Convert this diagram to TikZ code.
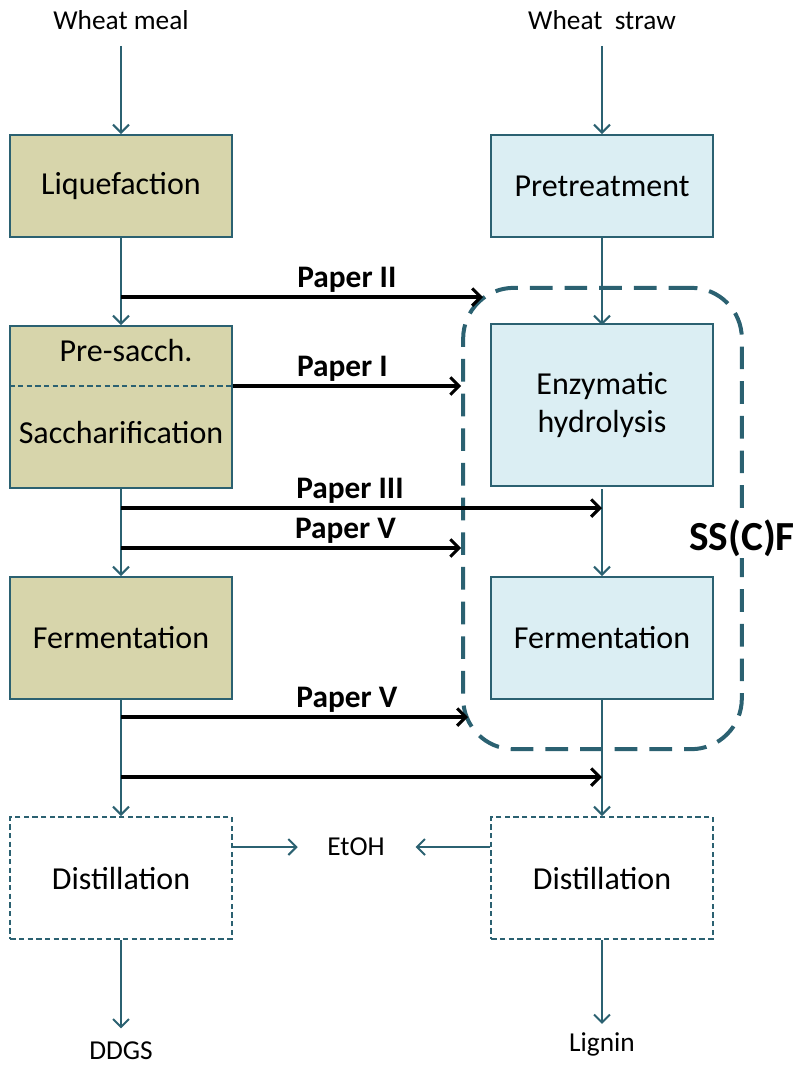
\documentclass[tikz,border=0pt]{standalone}
\usepackage{fontspec}
\setmainfont{Carlito}
\usetikzlibrary{arrows.meta,positioning,calc}
\definecolor{flowteal}{HTML}{2B6171}
\definecolor{mealfill}{HTML}{D7D5AB}
\definecolor{strawfill}{HTML}{DBEEF3}

\begin{document}
\begin{tikzpicture}[x=0.75pt,y=-0.75pt,node distance=0pt]

\tikzstyle{unit}=[rectangle,draw=flowteal,line width=1.5pt,minimum width=166pt,minimum height=76.5pt,align=center,font=\fontsize{24}{28.5}\selectfont];
\tikzstyle{meal}=[unit,fill=mealfill];
\tikzstyle{straw}=[unit,fill=strawfill];
\tikzstyle{still}=[unit,dash pattern=on 4pt off 2.5pt,minimum height=91.5pt];
\tikzstyle{stream}=[inner sep=0pt,font=\fontsize{20.5}{24}\selectfont];
\tikzstyle{flow}=[draw=flowteal,line width=1.5pt,-{Straight Barb[length=6pt,width=12pt]}];
\tikzstyle{paper}=[draw=black,line width=2.3pt,-{Straight Barb[length=6.5pt,width=13pt]}];
\tikzstyle{tag}=[above=-1pt,font=\fontsize{23.5}{27}\bfseries\selectfont];

\useasboundingbox (0,0) rectangle (801,1065);

% process boxes
\node(LIQ) [meal] at (121,186) {Liquefaction};
\node(PRE) [straw] at (602,186) {Pretreatment};
\node(SACCH) [meal,minimum height=121.5pt] at (121,407) {};
\node [unit,draw=none] at (126,351) {Pre-sacch.};
\node [unit,draw=none] at (121,432) {Saccharification};
\node(ENZ) [straw,minimum height=121.5pt] at (602,405) {Enzymatic\\hydrolysis};
\node(FERML) [meal,minimum height=91.5pt] at (121,638) {Fermentation};
\node(FERMR) [straw,minimum height=91.5pt] at (602,638) {Fermentation};
\node(DISTL) [still] at (121,878) {Distillation};
\node(DISTR) [still] at (602,878) {Distillation};

% SS(C)F frame
\node(SSF) [draw=flowteal,line width=3pt,dash pattern=on 17pt off 9pt,rounded corners=38pt,
  minimum width=209pt,minimum height=346pt] at (602.5,518.5) {};
\node(SSFTAG) [fill=white,inner sep=1pt,font=\fontsize{31}{36}\bfseries\selectfont] at (742,538) {SS(C)F};

% streams
\node(MEAL) [stream] at (121,20) {Wheat meal};
\node(STRAW) [stream] at (602,20) {Wheat\ \ straw};
\node(DDGS) [stream] at (121,1051) {DDGS};
\node(LIGNIN) [stream] at (602,1044) {Lignin};
\node(ETOH) [stream] at (356,847) {EtOH};

\draw[flow,shorten <=12pt] (MEAL) -- (LIQ);
\draw[flow,shorten <=12pt] (STRAW) -- (PRE);
\draw[flow] (LIQ) -- (SACCH);
\draw[flow] (SACCH) -- (FERML);
\draw[flow] (FERML) -- (DISTL);
\draw[flow,shorten >=10pt] (DISTL) -- (DDGS);
\draw[flow] (PRE) -- (ENZ.north |- SACCH.north);
\draw[flow] (ENZ.south |- SACCH.south) -- (FERMR);
\draw[flow] (FERMR) -- (DISTR);
\draw[flow,shorten >=6pt] (DISTR) -- (LIGNIN);
\draw[flow,shorten >=22pt] (DISTL.east |- ETOH) -- (ETOH.west);
\draw[flow,shorten >=23pt] (DISTR.west |- ETOH) -- (ETOH.east);

% split line
\coordinate(SPLITL) at (SACCH.west |- 0,386);
\coordinate(SPLITR) at (SACCH.east |- 0,386);
\draw[flowteal,line width=1.5pt,dash pattern=on 4pt off 2.5pt] (SPLITL) -- (SPLITR);

% paper links
\coordinate(TAP2) at (121,297);
\coordinate(END2) at (483,297);
\coordinate(END1) at (SSF.west |- SPLITR);
\coordinate(TAP3) at (121,508);
\coordinate(END3) at (602,508);
\coordinate(TAP5A) at (121,548);
\coordinate(END5A) at (SSF.west |- TAP5A);
\coordinate(TAP5B) at (121,717);
\coordinate(END5B) at (468,717);
\coordinate(TAP6) at (121,777);
\coordinate(END6) at (602,777);

\draw[paper] (TAP2) -- node[tag,pos=0.624] {Paper II} (END2);
\draw[paper] (SPLITR) -- node[tag,pos=0.48] {Paper I} (END1);
\draw[paper] (TAP3) -- node[tag,pos=0.476] {Paper III} (END3);
\draw[paper] (TAP5A) -- node[tag,pos=0.66] {Paper V} (END5A);
\draw[paper] (TAP5B) -- node[tag,pos=0.651] {Paper V} (END5B);
\draw[paper] (TAP6) -- (END6);

\end{tikzpicture}
\end{document}
